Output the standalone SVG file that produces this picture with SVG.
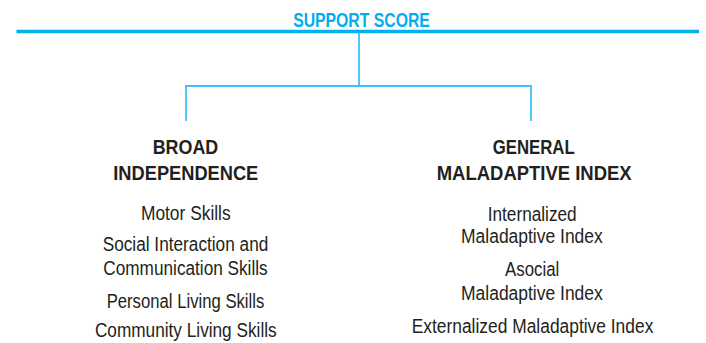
<svg xmlns="http://www.w3.org/2000/svg" width="706" height="343" viewBox="0 0 706 343">
<style>
text{font-family:"Liberation Sans Narrow","Liberation Sans",Arial,sans-serif;text-anchor:middle;fill:#231f20}
.title{font-weight:bold;font-size:20px;fill:#00aeef}
.head{font-weight:bold;font-size:21px}
.item{font-size:19.5px}
.conn{fill:none;stroke:#3cc3f3;stroke-width:1.8}
</style>
<rect width="706" height="343" fill="#ffffff"/>
<g id="support-score">
<text class="title" x="361.5" y="27.3" textLength="136.7" lengthAdjust="spacingAndGlyphs">SUPPORT SCORE</text>
<line x1="16.5" y1="31.5" x2="699" y2="31.5" stroke="#00b2ef" stroke-width="3.6"/>
</g>
<g id="connectors">
<path class="conn" d="M359,33 V86 M186,121 V86 H531 V121"/>
</g>
<g id="broad-independence">
<text class="head" x="185.5" y="154.3" textLength="65.6" lengthAdjust="spacingAndGlyphs">BROAD</text>
<text class="head" x="185.8" y="180" textLength="145" lengthAdjust="spacingAndGlyphs">INDEPENDENCE</text>
<text class="item" x="185.8" y="220" textLength="89.7" lengthAdjust="spacingAndGlyphs">Motor Skills</text>
<text class="item" x="185.5" y="251" textLength="165.6" lengthAdjust="spacingAndGlyphs">Social Interaction and</text>
<text class="item" x="185.5" y="275" textLength="164.4" lengthAdjust="spacingAndGlyphs">Communication Skills</text>
<text class="item" x="185.5" y="307.5" textLength="157.7" lengthAdjust="spacingAndGlyphs">Personal Living Skills</text>
<text class="item" x="185.8" y="337" textLength="181.7" lengthAdjust="spacingAndGlyphs">Community Living Skills</text>
</g>
<g id="general-maladaptive-index">
<text class="head" x="533.7" y="154.3" textLength="82" lengthAdjust="spacingAndGlyphs">GENERAL</text>
<text class="head" x="534.2" y="180" textLength="195" lengthAdjust="spacingAndGlyphs">MALADAPTIVE INDEX</text>
<text class="item" x="532.2" y="220.5" textLength="89" lengthAdjust="spacingAndGlyphs">Internalized</text>
<text class="item" x="531.9" y="243" textLength="141.7" lengthAdjust="spacingAndGlyphs">Maladaptive Index</text>
<text class="item" x="532.2" y="276" textLength="54.3" lengthAdjust="spacingAndGlyphs">Asocial</text>
<text class="item" x="531.9" y="300" textLength="141.7" lengthAdjust="spacingAndGlyphs">Maladaptive Index</text>
<text class="item" x="532.5" y="333" textLength="241.7" lengthAdjust="spacingAndGlyphs">Externalized Maladaptive Index</text>
</g>
</svg>
